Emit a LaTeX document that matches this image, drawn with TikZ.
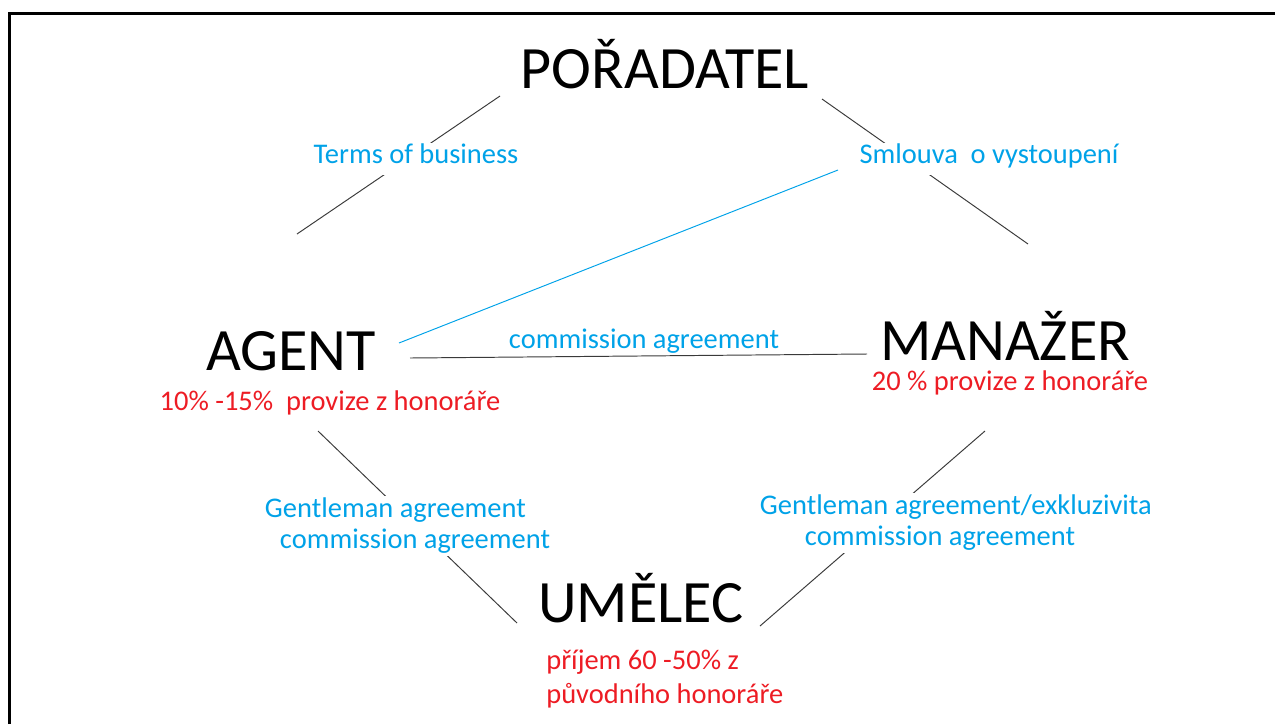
\documentclass[tikz,border=0pt]{standalone}
\usepackage{fontspec}
\setmainfont{Carlito}
\usepackage{tikz}
\usetikzlibrary{positioning}
\definecolor{dealblue}{HTML}{00A2E8}
\definecolor{feered}{HTML}{ED1C24}
\definecolor{linegray}{HTML}{3A3A3A}

\begin{document}
\begin{tikzpicture}[
        x=0.02cm, y=-0.02cm,
        party/.style={font=\fontsize{34.2}{40}\selectfont, text=black, inner sep=0pt, anchor=base},
        deal/.style={font=\fontsize{16.2}{17.1}\selectfont, text=dealblue, inner sep=0pt, anchor=base},
        gap/.style={fill=white, text height=9.4pt, text depth=5.1pt, inner xsep=2pt, inner ysep=2pt},
        dealtwo/.style={font=\fontsize{16.2}{17.1}\selectfont, text=dealblue, fill=white,
                        inner sep=1.5pt, align=left, anchor=base west},
        fee/.style={font=\fontsize{16.2}{18.8}\selectfont, text=feered, inner sep=0pt, anchor=base},
        conn/.style={draw=linegray, line width=0.55pt},
        cross/.style={draw=dealblue, line width=0.55pt}
    ]
        \useasboundingbox (0,0) rectangle (1275,724);
        \draw[line width=1.5pt] (9.7,724) -- (9.7,13.5) -- (1275,13.5);

        \coordinate (pa1) at (500,96);  \coordinate (pa2) at (297,234);
        \coordinate (pm1) at (822,99);  \coordinate (pm2) at (1028,244);
        \coordinate (am1) at (410,358); \coordinate (am2) at (867,354);
        \coordinate (au1) at (318,431); \coordinate (au2) at (517,623);
        \coordinate (mu1) at (985,431); \coordinate (mu2) at (760,626);
        \coordinate (x1) at (399,343);  \coordinate (x2) at (838,170);

        \draw[conn] (pa1) -- (pa2);
        \draw[conn] (pm1) -- (pm2);
        \draw[conn] (am1) -- (am2);
        \draw[conn] (au1) -- (au2);
        \draw[conn] (mu1) -- (mu2);
        \draw[cross] (x1) -- (x2);

        \node[party] (por) at (665,88) {POŘADATEL};
        \node[party] (agent) at (291,370) {AGENT};
        \node[party] (man) at (1005,360) {MANAŽER};
        \node[party] (umel) at (641,622) {UMĚLEC};

        \node[deal, gap] (tob) at (416,163) {Terms of business};
        \node[deal, gap] (sml) at (989,163) {Smlouva\ \ o vystoupení};
        \node[deal] (comm) at (644,348) {commission agreement};
        \node[dealtwo] (gal) at (262,548) {Gentleman agreement\\\hspace*{0.3cm}commission agreement};
        \node[dealtwo] (gar) at (757,545) {Gentleman agreement/exkluzivita\\\hspace*{0.9cm}commission agreement};

        \node[fee] (feea) at (330,410) {10\% -15\%\ \ provize z honoráře};
        \node[fee] (feem) at (1010,390) {20 \% provize z honoráře};
        \node[fee, align=left, anchor=base west] (feeu) at (546,703) {příjem 60 -50\% z\\původního honoráře};
\end{tikzpicture}
\end{document}
